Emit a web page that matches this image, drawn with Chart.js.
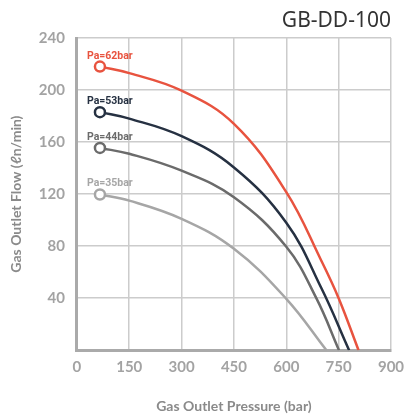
<!DOCTYPE html>
<html>
<head>
<meta charset="utf-8">
<script src="https://cdn.jsdelivr.net/npm/chart.js@4"></script>
<style>
  html, body { margin: 0; padding: 0; background: #fff; }
  #wrap { width: 406px; height: 417px; position: relative; }
</style>
</head>
<body>
<div id="wrap"><canvas id="pumpChart"></canvas></div>
<script>
// Pump curves for GB-DD-100
const chartTitle = 'GB-DD-100';
const xTicks = [0, 150, 300, 450, 600, 750, 900];
const yTicks = [0, 40, 80, 120, 160, 200, 240];

const seriesNames = ['Pa=62bar', 'Pa=53bar', 'Pa=44bar', 'Pa=35bar'];
const seriesColors = ['#e8533f', '#263142', '#6b6b6b', '#a6a6a6'];

const pressure62 = [66, 150, 300, 450, 600, 700, 750, 807];
const flow62 = [218, 213, 199.5, 174, 121.5, 69, 40, 0];

const pressure53 = [66, 150, 300, 450, 600, 700, 780];
const flow53 = [183, 178, 164.5, 140.5, 98, 48, 0];

const pressure44 = [66, 150, 300, 450, 600, 686, 751];
const flow44 = [155.5, 151, 138, 117.6, 79.5, 40, 0];

const pressure35 = [66, 150, 300, 450, 600, 715];
const flow35 = [119.7, 115, 101, 78, 39.5, 0];

const allPressure = [pressure62, pressure53, pressure44, pressure35];
const allFlow = [flow62, flow53, flow44, flow35];

function toPoints(xs, ys) {
    return xs.map((x, i) => ({ x: x, y: ys[i] }));
}

const datasets = seriesNames.map((name, i) => ({
    label: name,
    data: toPoints(allPressure[i], allFlow[i]),
    showLine: true,
    borderColor: seriesColors[i],
    borderWidth: 2.5,
    backgroundColor: '#fff',
    tension: 0.4,
    pointRadius: ctx => ctx.dataIndex === 0 ? 5 : 0,
    pointBorderWidth: 2.5,
    pointBorderColor: seriesColors[i],
    pointBackgroundColor: '#fff'
}));

// draws the "Pa=..." tag above the first point and the model name
const tagPlugin = {
    id: 'tags',
    afterDatasetsDraw(chart) {
        const ctx = chart.ctx;
        ctx.save();
        ctx.font = 'bold 10.5px Roboto';
        ctx.textBaseline = 'alphabetic';
        ctx.textAlign = 'left';
        chart.data.datasets.forEach((ds, i) => {
            const pt = chart.getDatasetMeta(i).data[0];
            ctx.fillStyle = seriesColors[i];
            ctx.fillText(ds.label, pt.x - 13, pt.y - 8);
        });
        ctx.font = '21px "Noto Sans"';
        ctx.fillStyle = '#333';
        ctx.textAlign = 'right';
        ctx.textBaseline = 'middle';
        ctx.fillText(chartTitle, chart.chartArea.right, 21);
        ctx.restore();
    }
};

const tickFont = { family: 'Lato', size: 15, weight: 'bold' };
const axisTitleFont = { family: 'Lato', size: 14, weight: 'bold' };

new Chart(document.getElementById('pumpChart'), {
    type: 'scatter',
    data: { datasets: datasets },
    options: {
        responsive: true,
        maintainAspectRatio: false,
        animation: false,
        layout: { padding: { top: 38, right: 15, left: 8, bottom: 2 } },
        plugins: {
            legend: { display: false },
            tooltip: { enabled: false }
        },
        scales: {
            x: {
                type: 'linear',
                min: 0, max: 900,
                afterBuildTicks: axis => { axis.ticks = xTicks.map(v => ({ value: v })); },
                afterFit: axis => { axis.paddingRight = 0; },
                ticks: { color: '#a3a3a3', font: tickFont, padding: 8 },
                grid: { color: '#cccccc', lineWidth: 1.5, drawTicks: false },
                border: { color: '#aaaaaa', width: 3 },
                title: { display: true, text: 'Gas Outlet Pressure (bar)', color: '#8a8a8a', font: axisTitleFont, padding: { top: 14, bottom: 0 } }
            },
            y: {
                type: 'linear',
                min: 0, max: 240,
                afterBuildTicks: axis => { axis.ticks = yTicks.map(v => ({ value: v })); },
                ticks: { color: '#a3a3a3', font: tickFont, padding: 12, callback: v => v === 0 ? '' : v },
                grid: { color: '#cccccc', lineWidth: 1.5, drawTicks: false },
                border: { color: '#aaaaaa', width: 3 },
                title: { display: true, text: 'Gas Outlet Flow (ℓn/min)', color: '#8a8a8a', font: axisTitleFont, padding: { top: 0, bottom: 2 } }
            }
        }
    },
    plugins: [tagPlugin]
});
</script>
</body>
</html>
